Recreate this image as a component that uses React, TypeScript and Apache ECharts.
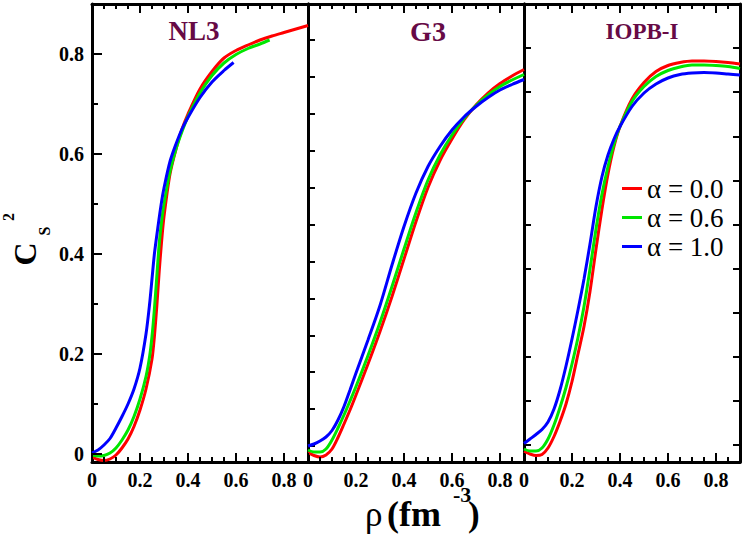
import React, { useEffect, useRef } from "react";
import * as echarts from "echarts";

// ---------- data ----------
const seriesNames = ["α = 0.0", "α = 0.6", "α = 1.0"];
const panelTitles = ["NL3", "G3", "IOPB-I"];
const xTickLabels = ["0", "0.2", "0.4", "0.6", "0.8"];
const yTickLabels = ["0", "0.2", "0.4", "0.6", "0.8"];
// tick marks: [value, 1 = major / 0 = minor]
const xTicks = [
  [0, 1], [0.05, 0], [0.1, 0], [0.15, 0], [0.2, 1], [0.25, 0], [0.3, 0],
  [0.35, 0], [0.4, 1], [0.45, 0], [0.5, 0], [0.55, 0], [0.6, 1], [0.65, 0],
  [0.7, 0], [0.75, 0], [0.8, 1], [0.85, 0],
];
const yTicksPanel1 = [
  [0, 1], [0.1, 0], [0.2, 1], [0.3, 0], [0.4, 1], [0.5, 0], [0.6, 1],
  [0.7, 0], [0.8, 1],
];

const nl3Alpha00 = [
  [0, -0.006], [0.025, -0.011], [0.05, -0.013], [0.075, -0.01], [0.1, -0.002],
  [0.125, 0.012], [0.15, 0.03], [0.175, 0.055], [0.2, 0.088], [0.225, 0.13],
  [0.25, 0.19], [0.26, 0.235], [0.27, 0.295], [0.28, 0.365], [0.29, 0.425],
  [0.3, 0.475], [0.325, 0.56], [0.35, 0.61], [0.375, 0.65], [0.4, 0.68],
  [0.45, 0.73], [0.5, 0.765], [0.55, 0.792], [0.6, 0.807], [0.65, 0.818],
  [0.7, 0.828], [0.75, 0.836], [0.8, 0.843], [0.85, 0.85], [0.9, 0.857],
];
const nl3Alpha06 = [
  [0, -0.002], [0.025, -0.004], [0.05, -0.003], [0.075, 0.002], [0.1, 0.012],
  [0.125, 0.028], [0.15, 0.048], [0.175, 0.075], [0.2, 0.11], [0.225, 0.155],
  [0.24, 0.195], [0.25, 0.235], [0.26, 0.29], [0.27, 0.355], [0.28, 0.42],
  [0.29, 0.465], [0.3, 0.5], [0.325, 0.565], [0.35, 0.61], [0.375, 0.645],
  [0.4, 0.675], [0.45, 0.722], [0.5, 0.757], [0.55, 0.782], [0.6, 0.799],
  [0.65, 0.811], [0.7, 0.82], [0.74, 0.828],
];
const nl3Alpha10 = [
  [0, 0.002], [0.025, 0.008], [0.05, 0.018], [0.075, 0.031], [0.1, 0.052],
  [0.125, 0.075], [0.15, 0.1], [0.175, 0.13], [0.2, 0.172], [0.225, 0.24],
  [0.24, 0.3], [0.25, 0.35], [0.26, 0.4], [0.275, 0.455], [0.29, 0.505],
  [0.3, 0.532], [0.325, 0.585], [0.35, 0.62], [0.375, 0.65], [0.4, 0.673],
  [0.45, 0.713], [0.5, 0.744], [0.55, 0.767], [0.59, 0.783],
];

const g3Alpha00 = [
  [0, 0.003], [0.025, -0.003], [0.05, -0.006], [0.075, -0.002], [0.1, 0.01],
  [0.125, 0.033], [0.15, 0.06], [0.175, 0.088], [0.2, 0.118], [0.25, 0.18],
  [0.3, 0.245], [0.35, 0.315], [0.4, 0.39], [0.45, 0.465], [0.5, 0.533],
  [0.55, 0.587], [0.6, 0.63], [0.65, 0.668], [0.7, 0.698], [0.75, 0.722],
  [0.8, 0.741], [0.85, 0.756], [0.9, 0.769],
];
const g3Alpha06 = [
  [0, 0.008], [0.025, 0.004], [0.05, 0.004], [0.075, 0.01], [0.1, 0.028],
  [0.125, 0.052], [0.15, 0.078], [0.175, 0.106], [0.2, 0.135], [0.25, 0.197],
  [0.3, 0.263], [0.35, 0.335], [0.4, 0.41], [0.45, 0.483], [0.5, 0.548],
  [0.55, 0.598], [0.6, 0.638], [0.65, 0.671], [0.7, 0.697], [0.75, 0.718],
  [0.8, 0.735], [0.85, 0.748], [0.9, 0.759],
];
const g3Alpha10 = [
  [0, 0.016], [0.025, 0.02], [0.05, 0.026], [0.075, 0.034], [0.1, 0.047],
  [0.125, 0.068], [0.15, 0.095], [0.175, 0.128], [0.2, 0.162], [0.25, 0.228],
  [0.3, 0.297], [0.35, 0.378], [0.4, 0.455], [0.45, 0.522], [0.5, 0.575],
  [0.55, 0.615], [0.6, 0.648], [0.65, 0.674], [0.7, 0.695], [0.75, 0.713],
  [0.8, 0.728], [0.85, 0.739], [0.9, 0.749],
];

const iopbAlpha00 = [
  [0, 0.005], [0.025, 0], [0.05, -0.003], [0.075, -0.001], [0.1, 0.012],
  [0.125, 0.035], [0.15, 0.065], [0.175, 0.1], [0.2, 0.145], [0.225, 0.2],
  [0.25, 0.255], [0.275, 0.325], [0.3, 0.41], [0.325, 0.49], [0.35, 0.56],
  [0.375, 0.615], [0.4, 0.655], [0.45, 0.71], [0.5, 0.743], [0.55, 0.765],
  [0.6, 0.777], [0.65, 0.783], [0.7, 0.786], [0.75, 0.786], [0.8, 0.785],
  [0.85, 0.783], [0.9, 0.78],
];
const iopbAlpha06 = [
  [0, 0.01], [0.025, 0.006], [0.05, 0.006], [0.075, 0.012], [0.1, 0.03],
  [0.125, 0.058], [0.15, 0.093], [0.175, 0.133], [0.2, 0.18], [0.225, 0.233],
  [0.25, 0.295], [0.275, 0.37], [0.3, 0.45], [0.325, 0.52], [0.35, 0.575],
  [0.375, 0.62], [0.4, 0.655], [0.45, 0.705], [0.5, 0.735], [0.55, 0.755],
  [0.6, 0.767], [0.65, 0.774], [0.7, 0.778], [0.75, 0.778], [0.8, 0.777],
  [0.85, 0.775], [0.9, 0.771],
];
const iopbAlpha10 = [
  [0, 0.021], [0.025, 0.03], [0.05, 0.039], [0.075, 0.049], [0.1, 0.064],
  [0.125, 0.09], [0.15, 0.128], [0.175, 0.176], [0.2, 0.23], [0.225, 0.288],
  [0.25, 0.35], [0.275, 0.42], [0.3, 0.495], [0.325, 0.555], [0.35, 0.598],
  [0.375, 0.63], [0.4, 0.655], [0.45, 0.695], [0.5, 0.722], [0.55, 0.74],
  [0.6, 0.752], [0.65, 0.759], [0.7, 0.762], [0.75, 0.763], [0.8, 0.762],
  [0.85, 0.76], [0.9, 0.758],
];

const panelData = [
  [nl3Alpha00, nl3Alpha06, nl3Alpha10],
  [g3Alpha00, g3Alpha06, g3Alpha10],
  [iopbAlpha00, iopbAlpha06, iopbAlpha10],
];

// ---------- styling ----------
const FONT = "Liberation Serif";
const COLORS = ["#ff0000", "#00e600", "#0000ff"];
const TITLE_COLOR = "#670a46";
const GRID_LEFT = [92, 308, 524];
const GRID_TOP = 4;
const GRID_W = 216;
const GRID_H = 458;
const X_MIN = 0;
const X_MAX = 0.9;
const Y_MIN = -0.016;
const Y_MAX = 0.9;
const TITLE_POS = [
  { x: 194, size: 27 },
  { x: 428, size: 28 },
  { x: 642, size: 23 },
];
// odd tick scales in panels 2 and 3 (tick marks only)
const TICK_AXES = [
  null,
  { min: -0.0434, max: 1.198, split: 12, sides: ["left"] },
  { min: -0.0385, max: 1.0, split: 10, sides: ["left", "right"] },
];

const fmt = (v: number) => {
  const s = v === 0 ? "0" : v.toFixed(1);
  return xTickLabels.includes(s) ? s : "";
};
const fmtY = (v: number) => {
  const s = v === 0 ? "0" : v.toFixed(1);
  return yTickLabels.includes(s) ? s : "";
};

const border = () => ({
  show: true,
  onZero: false,
  lineStyle: { color: "#000", width: 3 },
});
const tickStyle = () => ({ color: "#000", width: 2 });

const txt = (
  text: string,
  x: number,
  y: number,
  size: number,
  bold: boolean,
  align = "left"
) => ({
  type: "text",
  x,
  y,
  style: {
    text,
    fill: "#000",
    fontFamily: FONT,
    fontWeight: bold ? "bold" : "normal",
    fontSize: size,
    align,
    verticalAlign: "middle",
  },
});

// custom series drawing x tick marks (bottom and top) through the axis scales
const xTickRender = (params: any, api: any) => {
  const v = api.value(0);
  const len = api.value(1) === 1 ? 9 : 5;
  const b = api.coord([v, Y_MIN]);
  const t = api.coord([v, Y_MAX]);
  const st = { stroke: "#000", lineWidth: 2 };
  return {
    type: "group",
    children: [
      { type: "line", shape: { x1: b[0], y1: b[1], x2: b[0], y2: b[1] - len }, style: st },
      { type: "line", shape: { x1: t[0], y1: t[1], x2: t[0], y2: t[1] + len }, style: st },
    ],
  };
};
// custom series drawing y tick marks on the left edge of panel 1
const yTickRender = (params: any, api: any) => {
  const v = api.value(1);
  const len = api.value(2) === 1 ? 10 : 6;
  const l = api.coord([X_MIN, v]);
  return {
    type: "line",
    shape: { x1: l[0], y1: l[1], x2: l[0] + len, y2: l[1] },
    style: { stroke: "#000", lineWidth: 2 },
  };
};

function buildOption() {
  const grid: any[] = [];
  const xAxis: any[] = [];
  const yAxis: any[] = [];
  const series: any[] = [];

  for (let p = 0; p < 3; p++) {
    grid.push({ left: GRID_LEFT[p], top: GRID_TOP, width: GRID_W, height: GRID_H });
    const xMainIdx = xAxis.length;
    xAxis.push({
      type: "value",
      gridIndex: p,
      position: "bottom",
      min: X_MIN,
      max: X_MAX,
      interval: 0.2,
      axisLine: border(),
      splitLine: { show: false },
      axisTick: { show: false },
      axisLabel: {
        show: true,
        formatter: fmt,
        showMaxLabel: false,
        margin: 8,
        fontFamily: FONT,
        fontWeight: "bold",
        fontSize: 20,
        color: "#000",
      },
    });
    xAxis.push({
      type: "value",
      gridIndex: p,
      position: "top",
      min: X_MIN,
      max: X_MAX,
      axisLine: border(),
      splitLine: { show: false },
      axisTick: { show: false },
      axisLabel: { show: false },
    });
    const yMainIdx = yAxis.length;
    yAxis.push({
      type: "value",
      gridIndex: p,
      position: "left",
      min: Y_MIN,
      max: Y_MAX,
      splitNumber: 5,
      minInterval: 0.2,
      maxInterval: 0.2,
      axisLine: border(),
      splitLine: { show: false },
      axisTick: { show: false },
      axisLabel: {
        show: p === 0,
        formatter: fmtY,
        showMinLabel: false,
        showMaxLabel: false,
        margin: 8,
        fontFamily: FONT,
        fontWeight: "bold",
        fontSize: 20,
        color: "#000",
      },
    });
    const ta = TICK_AXES[p];
    if (ta) {
      for (const side of ta.sides) {
        yAxis.push({
          type: "value",
          gridIndex: p,
          position: side,
          min: ta.min,
          max: ta.max,
          splitNumber: ta.split,
          minInterval: 0.1,
          maxInterval: 0.1,
          axisLine: side === "right" ? border() : { show: false, onZero: false },
          splitLine: { show: false },
          axisTick: { show: true, inside: true, length: 7, lineStyle: tickStyle() },
          axisLabel: { show: false },
        });
      }
    }
    if (!ta || !ta.sides.includes("right")) {
      yAxis.push({
        type: "value",
        gridIndex: p,
        position: "right",
        min: Y_MIN,
        max: Y_MAX,
        axisLine: border(),
        splitLine: { show: false },
        axisTick: { show: false },
        axisLabel: { show: false },
      });
    }

    for (let s = 0; s < 3; s++) {
      series.push({
        type: "line",
        name: seriesNames[s],
        xAxisIndex: xMainIdx,
        yAxisIndex: yMainIdx,
        data: panelData[p][s],
        smooth: 0.3,
        showSymbol: false,
        symbol: "none",
        lineStyle: { color: COLORS[s], width: 3 },
        itemStyle: { color: COLORS[s] },
        z: 2 + s,
      });
    }
    // x tick marks
    series.push({
      type: "custom",
      xAxisIndex: xMainIdx,
      yAxisIndex: yMainIdx,
      data: xTicks,
      encode: { x: 0 },
      renderItem: xTickRender,
      clip: false,
      silent: true,
      z: 6,
    });
    if (p === 0) {
      series.push({
        type: "custom",
        xAxisIndex: xMainIdx,
        yAxisIndex: yMainIdx,
        data: yTicksPanel1.map((t) => [X_MIN, t[0], t[1]]),
        encode: { x: 0, y: 1 },
        renderItem: yTickRender,
        clip: false,
        silent: true,
        z: 6,
      });
    }
  }

  const graphic: any[] = [];
  for (let p = 0; p < 3; p++) {
    graphic.push({
      type: "text",
      x: TITLE_POS[p].x,
      y: 31,
      style: {
        text: panelTitles[p],
        fill: TITLE_COLOR,
        fontFamily: FONT,
        fontWeight: "bold",
        fontSize: TITLE_POS[p].size,
        align: "center",
        verticalAlign: "middle",
      },
    });
  }
  // y-axis title C_S^2, rotated a quarter turn as a group
  graphic.push({
    type: "group",
    x: 25,
    y: 254,
    rotation: Math.PI / 2,
    children: [
      txt("C", 0, 0, 32, true, "center"),
      txt("S", 23, 19, 16, true, "center"),
      txt("2", 37, -17, 16, true, "center"),
    ],
  });
  // x-axis title ρ (fm^-3)
  graphic.push(txt("ρ", 365, 514, 35, false));
  graphic.push(txt("(fm", 387, 514, 36, true));
  graphic.push(txt("-3", 453, 494, 22, true));
  graphic.push(txt(")", 468, 514, 35, true));

  return {
    animation: false,
    backgroundColor: "#fff",
    textStyle: { fontFamily: FONT },
    grid,
    xAxis,
    yAxis,
    series,
    graphic,
    legend: {
      data: seriesNames,
      orient: "vertical",
      left: 617,
      top: 170,
      itemWidth: 20,
      itemHeight: 3,
      itemGap: 2,
      icon: "rect",
      textStyle: { fontFamily: FONT, fontSize: 27, lineHeight: 25, color: "#000" },
    },
  };
}

export default function App() {
  const ref = useRef<HTMLDivElement>(null);
  useEffect(() => {
    if (!ref.current) return;
    const chart = echarts.init(ref.current, undefined, { renderer: "svg" });
    chart.setOption(buildOption() as any);
    return () => chart.dispose();
  }, []);
  return (
    <div
      ref={ref}
      style={{ position: "fixed", left: 0, top: 0, width: 747, height: 536 }}
    />
  );
}
